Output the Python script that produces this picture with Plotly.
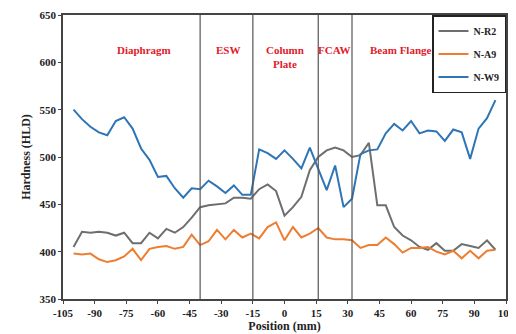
import plotly.graph_objects as go

positions = list(range(-100, 101, 4))

n_r2 = [405, 421, 420, 421, 420, 417, 420, 409, 409, 420, 414, 424, 420, 426, 436, 447,
        449, 450, 451, 457, 457, 456, 466, 471, 464, 438, 447, 458, 486, 500, 507, 510,
        507, 500, 502, 515, 449, 449, 426, 417, 412, 405, 402, 409, 401, 401, 408, 406,
        404, 412, 402]
n_a9 = [398, 397, 398, 392, 389, 391, 395, 403, 391, 403, 405, 406, 403, 405, 418, 407,
        411, 423, 413, 423, 415, 419, 414, 426, 431, 412, 426, 415, 419, 425, 415, 413,
        413, 412, 404, 407, 407, 415, 408, 399, 404, 404, 405, 400, 397, 401, 393, 401,
        393, 401, 402]
n_w9 = [550, 540, 532, 526, 523, 538, 542, 530, 509, 497, 479, 480, 467, 457, 467, 466,
        475, 469, 462, 470, 460, 460, 508, 504, 498, 507, 498, 488, 510, 487, 465, 491,
        447, 456, 503, 507, 508, 525, 535, 528, 538, 525, 528, 527, 517, 529, 526, 498,
        530, 541, 560]

series_names = ["N-R2", "N-A9", "N-W9"]
series_colors = ["#6e6e6e", "#ED7D31", "#2E75B6"]

boundaries = [-40, -15, 16, 32]
region_labels = ["Diaphragm", "ESW", "Column<br>Plate", "FCAW", "Beam Flange"]
region_x = [-66.5, -27, 0, 23.5, 55]
region_y = 622

x_ticks = list(range(-105, 106, 15))
y_ticks = list(range(350, 651, 50))

font_family = "Liberation Serif"

fig = go.Figure()
for i, (name, vals, col) in enumerate(zip(series_names, [n_r2, n_a9, n_w9], series_colors)):
    fig.add_trace(go.Scatter(
        x=positions, y=vals, mode="lines", name="<b>" + name + "</b>",
        line=dict(color=col, width=2), legendgroup=name,
    ))

for b in boundaries:
    fig.add_shape(type="line", xref="x", yref="paper", x0=b, x1=b, y0=0, y1=1,
                  line=dict(color="#555555", width=1.2))

for txt, xv in zip(region_labels, region_x):
    fig.add_annotation(x=xv, y=region_y, xref="x", yref="y", text="<b>" + txt + "</b>",
                       showarrow=False, font=dict(family=font_family, size=11, color="#E0202A"),
                       yanchor="top")

# page body has an 8px default margin, so the figure is sized to fit the 516x334 window
fig.update_layout(
    width=508, height=326,
    margin=dict(l=55, r=10, t=7, b=35, autoexpand=False),
    paper_bgcolor="white", plot_bgcolor="white",
    font=dict(family=font_family, size=11, color="#222222"),
    showlegend=True,
    legend=dict(x=1, y=1, xanchor="right", yanchor="top", bgcolor="white",
                bordercolor="#222222", borderwidth=1.5, tracegroupgap=4,
                font=dict(family=font_family, size=10, color="#222222"),
                itemwidth=30),
    xaxis=dict(range=[-105, 105], tickvals=x_ticks, ticktext=["<b>%d</b>" % v for v in x_ticks],
               showgrid=False, zeroline=False, showline=True, linecolor="#444444", linewidth=1.5,
               mirror=True, ticks="outside", ticklen=3, tickcolor="#444444", automargin=False,
               title=dict(text="<b>Position (mm)</b>", font=dict(size=12), standoff=0)),
    yaxis=dict(range=[350, 650], tickvals=y_ticks, ticktext=["<b>%d</b>" % v for v in y_ticks],
               showgrid=False, zeroline=False, showline=True, linecolor="#444444", linewidth=1.5,
               mirror=True, ticks="outside", ticklen=3, tickcolor="#444444", automargin=False,
               title=dict(text="<b>Hardness (HLD)</b>", font=dict(size=12), standoff=6)),
)

fig.write_html("out.html")
